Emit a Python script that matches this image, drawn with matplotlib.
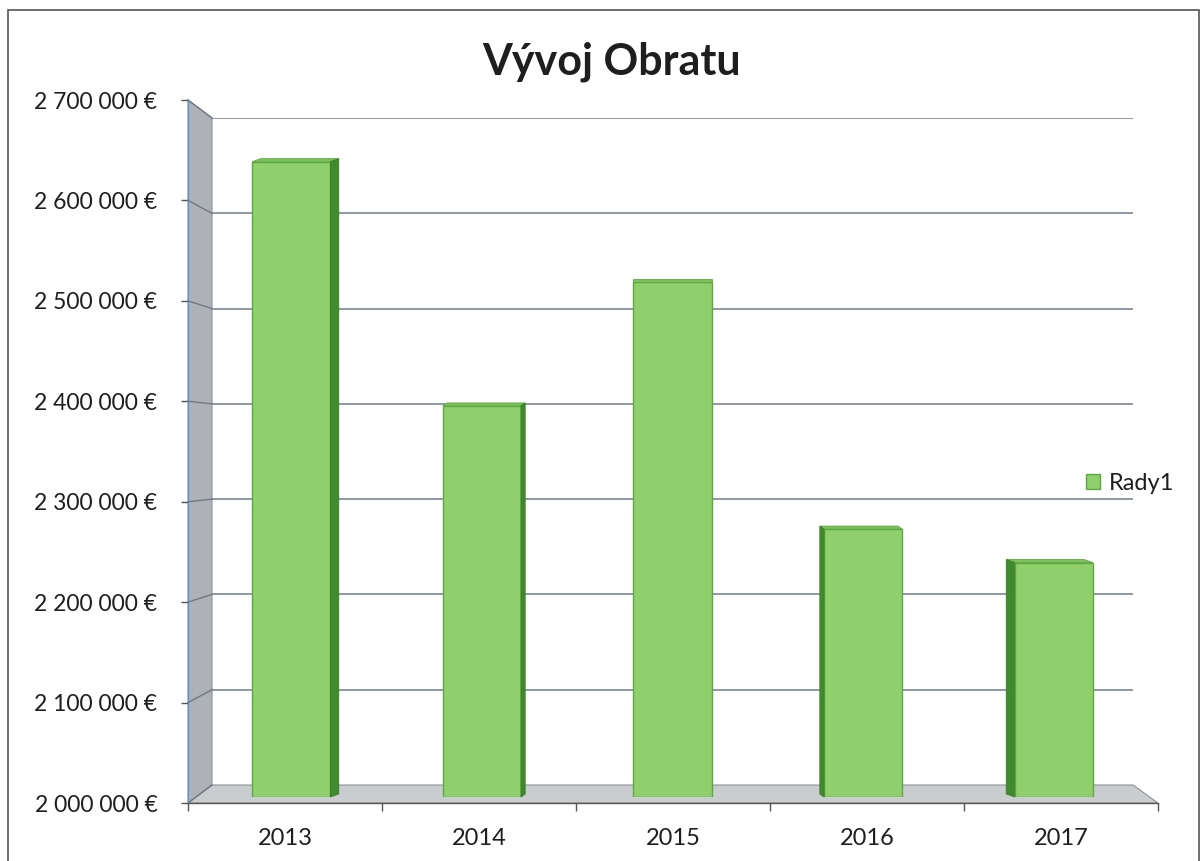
import matplotlib
matplotlib.use("Agg")
import matplotlib.pyplot as plt
from matplotlib.patches import Polygon, Rectangle
from matplotlib.lines import Line2D
from matplotlib.transforms import IdentityTransform
import numpy as np

# ---- data ----
years = ["2013", "2014", "2015", "2016", "2017"]
values = [2645000, 2397000, 2523000, 2272000, 2238000]
yticks = [2000000, 2100000, 2200000, 2300000, 2400000, 2500000, 2600000, 2700000]
title = "Vývoj Obratu"
series_name = "Rady1"

W, H = 1201, 861
DPI = 100
plt.rcParams['font.family'] = ['Lato', 'DejaVu Sans']
fig = plt.figure(figsize=(W / DPI, H / DPI), dpi=DPI)
fig.patch.set_facecolor('white')

def rect(l, r, t, b):
    return [l / W, 1 - b / H, (r - l) / W, (b - t) / H]

def to_px(ax, x, y):
    """data -> display pixel (origin bottom-left)"""
    return ax.transData.transform((x, y))

ymin, ymax = yticks[0], yticks[-1]
TXT = '#1e1e1e'

# back wall axes (gridlines)
axb = fig.add_axes(rect(212, 1133, 118, 785), zorder=0)
axb.set_xlim(0, 5)
axb.set_ylim(ymin, ymax)
axb.set_facecolor('white')
for s in axb.spines.values():
    s.set_visible(False)
axb.set_xticks([]); axb.set_yticks([])
for v in yticks[1:]:
    axb.axhline(v, color='#7d8894', lw=1.2, zorder=1)

# front axes (labels, ticks)
axf = fig.add_axes(rect(188, 1158, 100, 803), zorder=3)
axf.set_xlim(0, 5)
axf.set_ylim(ymin, ymax)
axf.patch.set_alpha(0)
for k in ['top', 'right']:
    axf.spines[k].set_visible(False)
axf.spines['left'].set_color('#5b8fc8')
axf.spines['left'].set_linewidth(0.8)
axf.spines['bottom'].set_color('#555555')
axf.spines['bottom'].set_linewidth(1.0)
axf.set_yticks(yticks)
axf.set_yticklabels([f"{v:,.0f} €".replace(",", " ") for v in yticks])
axf.set_xticks(np.arange(6))
axf.set_xticklabels([])
axf.set_xticks(np.arange(5) + 0.5, minor=True)
axf.set_xticklabels(years, minor=True)
axf.tick_params(axis='y', length=5, width=1, color='#555555', pad=17,
                labelsize=16.5, labelcolor=TXT)
axf.tick_params(axis='x', which='major', length=6, width=1, color='#555555', direction='out')
axf.tick_params(axis='x', which='minor', length=0, pad=18, labelsize=17, labelcolor=TXT)

# side wall and floor (figure pixel coordinates via transforms)
sw_front_top = to_px(axf, 0, ymax)
sw_front_bot = to_px(axf, 0, ymin)
sw_back_top = to_px(axb, 0, ymax)
sw_back_bot = to_px(axb, 0, ymin)
side = Polygon([sw_front_top, sw_back_top, sw_back_bot, sw_front_bot], closed=True,
               facecolor='#aeb2b6', edgecolor='#8c9298', lw=0.8,
               transform=IdentityTransform(), zorder=1)
fig.add_artist(side)
for v in yticks:
    p1 = to_px(axf, 0, v)
    p2 = to_px(axb, 0, v)
    fig.add_artist(Line2D([p1[0], p2[0]], [p1[1], p2[1]], color='#6f7880', lw=1.0,
                          transform=IdentityTransform(), zorder=1.1))

fl = Polygon([to_px(axf, 0, ymin), to_px(axf, 5, ymin), to_px(axb, 5, ymin), to_px(axb, 0, ymin)],
             closed=True, facecolor='#c9cdd0', edgecolor='#8c9298', lw=0.8,
             transform=IdentityTransform(), zorder=1)
fig.add_artist(fl)

# bars axes (middle depth)
axbar = fig.add_axes([196 / W, 1 - 797 / H, (1149 - 196) / W, (797 - 107.5) / H], zorder=2)
axbar.set_xlim(0, 5)
axbar.set_ylim(ymin, ymax)
axbar.patch.set_alpha(0)
for s in axbar.spines.values():
    s.set_visible(False)
axbar.set_xticks([]); axbar.set_yticks([])
xpos = np.arange(len(years)) + 0.5
bars = axbar.bar(xpos, [v - ymin for v in values], bottom=ymin, width=0.41,
                 color='#8fd06c', edgecolor='#5ea843', linewidth=1.0, zorder=3,
                 label=series_name)

fig.canvas.draw()
vanish_x = to_px(axbar, 2.5, ymin)[0]
for b in bars:
    x0, y0 = b.get_x(), b.get_y()
    x1, y1 = x0 + b.get_width(), y0 + b.get_height()
    (px0, py0) = to_px(axbar, x0, y0)
    (px1, py1) = to_px(axbar, x1, y1)
    cx = (px0 + px1) / 2
    dx = -(cx - vanish_x) * 0.022
    dy = 3.0
    top = Polygon([(px0, py1), (px1, py1), (px1 + dx, py1 + dy), (px0 + dx, py1 + dy)],
                  closed=True, facecolor='#7cc25a', edgecolor='#5ea843', lw=0.6,
                  transform=IdentityTransform(), zorder=2.5)
    fig.add_artist(top)
    if abs(dx) > 0.5:
        ex = px1 if dx > 0 else px0
        sidef = Polygon([(ex, py0), (ex, py1), (ex + dx, py1 + dy), (ex + dx, py0 + dy)],
                        closed=True, facecolor='#3f8a2c', edgecolor='#3a7d28', lw=0.6,
                        transform=IdentityTransform(), zorder=2.5)
        fig.add_artist(sidef)

# title
fig.text(612 / W, 1 - 62 / H, title, ha='center', va='center', fontsize=31,
         fontweight='bold', color=TXT)

# legend
leg = fig.legend(handles=[bars], labels=[series_name], loc='center left',
                 bbox_to_anchor=(1086 / W, 1 - 483 / H), frameon=False,
                 fontsize=17, handlelength=0.6, handleheight=0.6, handletextpad=0.35,
                 borderpad=0, borderaxespad=0)
for t in leg.get_texts():
    t.set_color(TXT)

# outer border
fig.add_artist(Rectangle((8 / W, -0.01), (1199 - 8) / W, 1 - 10 / H + 0.01,
                         transform=fig.transFigure, fill=False, edgecolor='#555555', lw=1.2,
                         zorder=0))

fig.savefig("out.png", dpi=DPI)
